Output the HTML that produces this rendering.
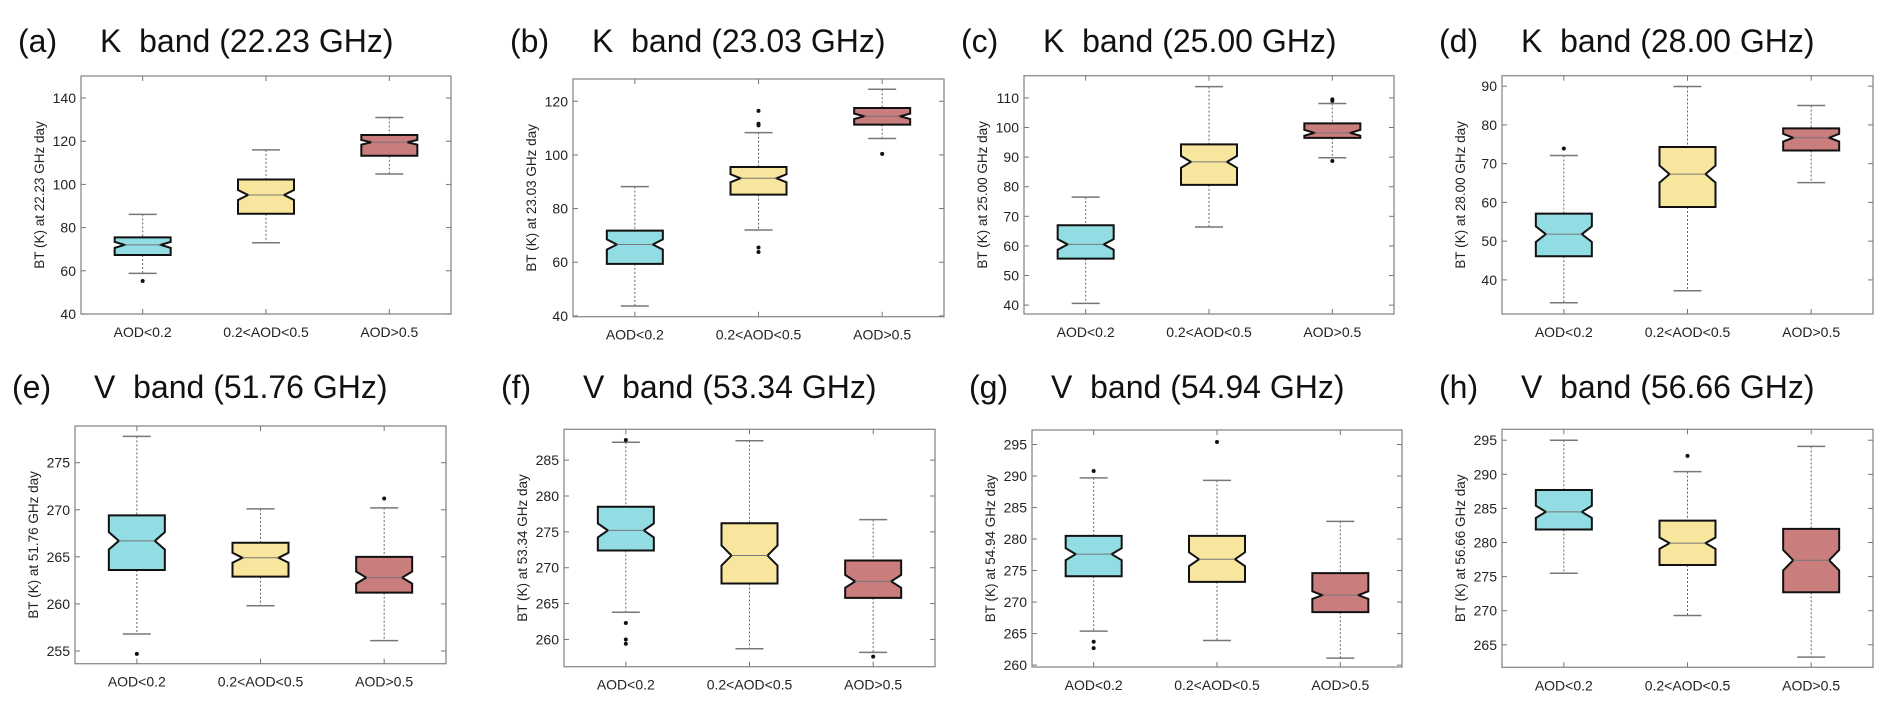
<!DOCTYPE html>
<html><head><meta charset="utf-8"><style>
html,body{margin:0;padding:0;background:#fff;}
svg{display:block;font-family:"Liberation Sans",Arial,sans-serif;}
</style></head><body>
<svg id="fig" width="1892" height="709" viewBox="0 0 1892 709" xmlns="http://www.w3.org/2000/svg"></svg>
<script>
// ---- data ----
const categories = ["AOD<0.2", "0.2<AOD<0.5", "AOD>0.5"];
const panelLetters = ["(a)","(b)","(c)","(d)","(e)","(f)","(g)","(h)"];
const panelTitles = ["K  band (22.23 GHz)","K  band (23.03 GHz)","K  band (25.00 GHz)","K  band (28.00 GHz)",
                     "V  band (51.76 GHz)","V  band (53.34 GHz)","V  band (54.94 GHz)","V  band (56.66 GHz)"];
const yTitles = ["BT (K) at 22.23 GHz day","BT (K) at 23.03 GHz day","BT (K) at 25.00 GHz day","BT (K) at 28.00 GHz day",
                 "BT (K) at 51.76 GHz day","BT (K) at 53.34 GHz day","BT (K) at 54.94 GHz day","BT (K) at 56.66 GHz day"];
const yDomains = [[40,150.2],[39.7,128.3],[37,117.5],[31.2,92.7],[253.65,278.9],[256.2,289.3],[259.7,297.3],[261.7,296.6]];
const yTicks = [[40,60,80,100,120,140],[40,60,80,100,120],[40,50,60,70,80,90,100,110],[40,50,60,70,80,90],
                [255,260,265,270,275],[260,265,270,275,280,285],[260,265,270,275,280,285,290,295],[265,270,275,280,285,290,295]];
const whiskerLow = [[58.8,73,104.8],[43.7,72.0,106.1],[40.6,66.4,89.8],[34.1,37.2,65.1],
                    [256.8,259.8,256.1],[263.8,258.7,258.2],[265.4,263.9,261.1],[275.5,269.3,263.2]];
const q1 = [[67.3,86.4,113.3],[59.4,85.2,111.3],[55.7,80.6,96.5],[46.1,58.8,73.4],
            [263.6,262.9,261.2],[272.4,267.8,265.8],[274.1,273.2,268.4],[281.9,276.7,272.7]];
const medians = [[72,95.1,119.5],[66.6,91.3,114.4],[60.5,88.4,98.2],[51.8,67.3,76.7],
                 [266.7,264.9,262.8],[275.2,271.7,268.1],[277.6,276.8,271.1],[284.5,279.9,277.4]];
const q3 = [[75.5,102.3,122.9],[71.8,95.5,117.5],[67,94.3,101.4],[57.1,74.3,79.1],
            [269.4,266.5,265],[278.5,276.2,271],[280.5,280.5,274.6],[287.7,283.2,282]];
const whiskerHigh = [[86.1,116,131],[88.2,108.3,124.5],[76.5,113.8,108.1],[72.1,89.9,85],
                     [277.8,270.1,270.2],[287.5,287.7,276.7],[289.7,289.3,282.8],[295,290.4,294.1]];
const notchHalf = [[1.4,2.3,1.1],[1.9,1.5,1.0],[1.8,2.0,1.0],[2.0,2.2,1.0],
                   [0.92,0.53,0.64],[0.97,1.4,0.9],[0.95,1.1,0.6],[0.9,0.83,1.5]];
const outliers = [[[55.3],[],[]],[[],[116.4,111.6,111,65.5,63.8],[100.4]],[[],[],[109.5,109,88.7]],[[73.9],[],[]],
                  [[254.7],[],[271.2]],[[287.8,262.3,260,259.4],[],[257.6]],[[290.8,263.7,262.7],[295.4],[]],[[],[292.7],[]]];
// ---- layout (pixels) ----
const boxes = [[81,451,76,314],[573,944,79,316.7],[1024,1394,75.7,314],[1502,1873,75.7,314],
               [75,446,426,663.7],[564,935,429.3,666.7],[1032,1402,430,667],[1502,1873,429.3,667.3]];
const fills = ["#92dde3","#f8e59e","#c97d7c"];
const NS = "http://www.w3.org/2000/svg";
const svg = document.getElementById("fig");
function mk(tag, attrs, parent){
  const e = document.createElementNS(NS, tag);
  for (const k in attrs) e.setAttribute(k, attrs[k]);
  (parent||svg).appendChild(e);
  return e;
}
for (let p = 0; p < 8; p++) {
  const [L,R,T,B] = boxes[p];
  const [d0,d1] = yDomains[p];
  const y = v => B - (v - d0) / (d1 - d0) * (B - T);
  const x = i => L + (R - L) * (i + 0.5) / 3;
  const g = mk("g", {});
  
  
  const titleY = p < 4 ? 52 : 398;
  const lt = mk("text", {x: L - 63, y: titleY, "font-size": 32, fill: "#111"}, g);
  lt.textContent = panelLetters[p];
  
  
  const tt = mk("text", {x: L + 19, y: titleY, "font-size": 32, fill: "#111", "xml:space": "preserve", style: "white-space:pre"}, g);
  tt.textContent = panelTitles[p];
  
  
  const ax = mk("rect", {x: L, y: T, width: R - L, height: B - T, fill: "#fff", stroke: "#8a8a8a", "stroke-width": 1.3}, g);
  
  
  yTicks[p].forEach(v => {
    const yy = y(v);
    mk("line", {x1: L, x2: L + 5, y1: yy, y2: yy, stroke: "#777", "stroke-width": 1}, g);
    mk("line", {x1: R, x2: R - 5, y1: yy, y2: yy, stroke: "#777", "stroke-width": 1}, g);
    const t = mk("text", {x: L - 5, y: yy + 5, "font-size": 14, "text-anchor": "end", fill: "#222"}, g);
    t.textContent = v;
    
    
  });
  const yt = mk("text", {x: 0, y: 0, "font-size": 13.5, "text-anchor": "middle", fill: "#222",
    transform: `translate(${L - 37},${(T + B) / 2}) rotate(-90)`}, g);
  yt.textContent = yTitles[p];
  
  
  categories.forEach((c, i) => {
    const cx = x(i);
    mk("line", {x1: cx, x2: cx, y1: B, y2: B - 5, stroke: "#777"}, g);
    mk("line", {x1: cx, x2: cx, y1: T, y2: T + 5, stroke: "#777"}, g);
    const t = mk("text", {x: cx, y: B + 23, "font-size": 14, "text-anchor": "middle", fill: "#222"}, g);
    t.textContent = c;
    
    
    // whiskers
    const w1 = mk("line", {x1: cx, x2: cx, y1: y(whiskerHigh[p][i]), y2: y(q3[p][i]), stroke: "#666", "stroke-width": 1, "stroke-dasharray": "2,2"}, g);
    
    
    const w2 = mk("line", {x1: cx, x2: cx, y1: y(q1[p][i]), y2: y(whiskerLow[p][i]), stroke: "#666", "stroke-width": 1, "stroke-dasharray": "2,2"}, g);
    
    
    [whiskerHigh[p][i], whiskerLow[p][i]].forEach(v => {
      const cap = mk("line", {x1: cx - 14, x2: cx + 14, y1: y(v), y2: y(v), stroke: "#777", "stroke-width": 1.5}, g);
      
      
    });
    // notched box
    const hw = 28, nw = 18;
    const yq3 = y(q3[p][i]), yq1 = y(q1[p][i]), ym = y(medians[p][i]);
    const nt = y(medians[p][i] + notchHalf[p][i]), nb = y(medians[p][i] - notchHalf[p][i]);
    const d = `M${cx-hw},${yq3} L${cx+hw},${yq3} L${cx+hw},${nt} L${cx+nw},${ym} L${cx+hw},${nb} L${cx+hw},${yq1} L${cx-hw},${yq1} L${cx-hw},${nb} L${cx-nw},${ym} L${cx-hw},${nt} Z`;
    const bx = mk("path", {d: d, fill: fills[i], stroke: "#111", "stroke-width": 2, "stroke-linejoin": "miter"}, g);
    
    
    const md = mk("line", {x1: cx - nw, x2: cx + nw, y1: ym, y2: ym, stroke: "#777", "stroke-width": 1}, g);
    
    
    outliers[p][i].forEach(v => {
      const o = mk("circle", {cx: cx, cy: y(v), r: 2, fill: "#111"}, g);
      
      
    });
  });
}
</script>
</body></html>
